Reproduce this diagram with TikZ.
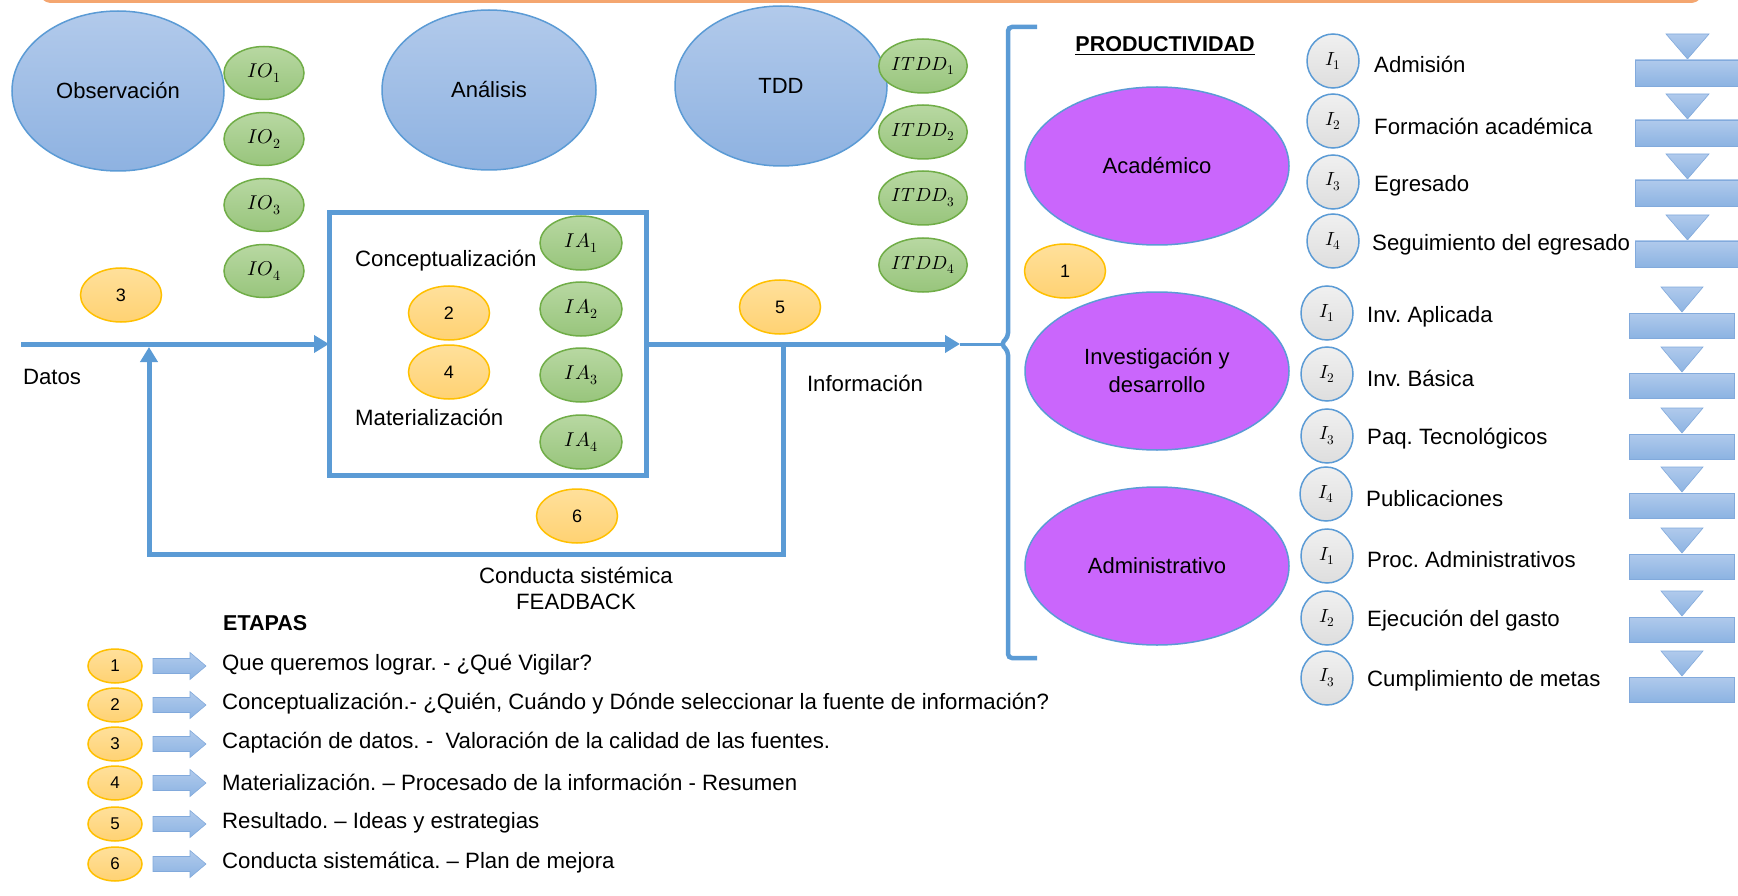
\documentclass[tikz,border=0pt]{standalone}
\usepackage{fontspec}
\usepackage{unicode-math}
\setmainfont{Liberation Sans}
\setmathfont{Latin Modern Math}
\usetikzlibrary{shapes.geometric,arrows.meta}
\frenchspacing

\definecolor{lblue}{RGB}{91,155,213}
\definecolor{bfillT}{RGB}{178,202,235}
\definecolor{bfillB}{RGB}{142,178,225}
\definecolor{gline}{RGB}{112,173,71}
\definecolor{gfillT}{RGB}{184,216,162}
\definecolor{gfillB}{RGB}{152,197,124}
\definecolor{yline}{RGB}{255,192,0}
\definecolor{yfillT}{RGB}{255,224,155}
\definecolor{yfillB}{RGB}{255,210,115}
\definecolor{purp}{RGB}{202,102,252}
\definecolor{greyT}{RGB}{240,240,240}
\definecolor{greyB}{RGB}{222,222,222}
\definecolor{orangeline}{RGB}{244,166,112}
\definecolor{mergeT}{RGB}{176,202,236}
\definecolor{mergeB}{RGB}{140,179,226}
\definecolor{mergeLine}{RGB}{130,170,220}

\tikzset{
  txt/.style={font=\fontsize{22.2}{26}\selectfont, inner sep=0pt},
  bigell/.style={ellipse, draw=lblue, line width=1.5pt, top color=bfillT, bottom color=bfillB,
    minimum width=212pt, minimum height=160pt, inner sep=0pt, font=\fontsize{22}{26}\selectfont},
  gell/.style={ellipse, draw=gline, line width=1.5pt, top color=gfillT, bottom color=gfillB,
    minimum width=80pt, minimum height=53pt, inner sep=0pt, font=\fontsize{20}{22}\selectfont},
  yell/.style={ellipse, draw=yline, line width=1.5pt, top color=yfillT, bottom color=yfillB,
    minimum width=81pt, minimum height=54pt, inner sep=0pt, font=\fontsize{18}{20}\selectfont},
  pell/.style={ellipse, draw=lblue, line width=1.5pt, fill=purp,
    minimum width=264pt, minimum height=158pt, inner sep=0pt, align=center,
    font=\fontsize{22}{28}\selectfont},
  icirc/.style={ellipse, draw=lblue, line width=1.5pt, top color=greyT, bottom color=greyB,
    minimum width=52pt, minimum height=54pt, inner sep=0pt, font=\fontsize{19}{20}\selectfont},
  lcirc/.style={ellipse, draw=yline, line width=1.5pt, top color=yfillT, bottom color=yfillB,
    minimum width=54pt, minimum height=34pt, inner sep=0pt, font=\fontsize{17}{18}\selectfont},
  flow/.style={draw=lblue, line width=5pt},
  arr/.style={-{Triangle[length=15pt,width=17pt]}},
  mergeshape/.style={top color=mergeT, bottom color=mergeB, draw=mergeLine, line width=0.6pt},
  legarrow/.style={top color=mergeT, bottom color=mergeB, draw=mergeLine, line width=0.6pt},
}

\begin{document}
\begin{tikzpicture}[x=1pt,y=-1pt]
\useasboundingbox (0,0) rectangle (1738,896);
\fill[white] (0,0) rectangle (1738,896);

% top orange bar (bottom edge of title box)
\draw[orangeline, line width=3pt, rounded corners=14pt] (38,-30) -- (38,1.5) -- (1704,1.5) -- (1704,-30);

% big blue ellipses
\node[bigell] (obs) at (118,91) {Observación};
\node[bigell, minimum width=214pt] (ana) at (489,90) {Análisis};
\node[bigell] (tdd) at (781,86) {TDD};

% IO
\node[gell] (io1) at (264,73) {$IO_1$};
\node[gell] (io2) at (264,139) {$IO_2$};
\node[gell] (io3) at (264,205) {$IO_3$};
\node[gell] (io4) at (264,271) {$IO_4$};

% ITDD
\node[gell, minimum width=82pt, minimum height=54pt, font=\fontsize{19}{20}\selectfont] (it1) at (923,66) {$ITDD_1$};
\node[gell, minimum width=82pt, minimum height=54pt, font=\fontsize{19}{20}\selectfont] (it2) at (923,132) {$ITDD_2$};
\node[gell, minimum width=82pt, minimum height=54pt, font=\fontsize{19}{20}\selectfont] (it3) at (923,198) {$ITDD_3$};
\node[gell, minimum width=82pt, minimum height=54pt, font=\fontsize{19}{20}\selectfont] (it4) at (923,265) {$ITDD_4$};

% central box
\node[draw=lblue, line width=5pt, minimum width=317pt, minimum height=262pt, outer sep=0pt, inner sep=0pt] (box) at (487.5,344) {};
\node[txt, anchor=west] (concept) at (355,261) {Conceptualización};
\node[txt, anchor=west] (mater) at (355,417) {Materialización};
\node[yell] (n2) at (449,313) {2};
\node[yell] (n4) at (449,372) {4};
\node[gell, minimum width=82pt, minimum height=54pt] (ia1) at (581,243) {$IA_1$};
\node[gell, minimum width=82pt, minimum height=54pt] (ia2) at (581,309) {$IA_2$};
\node[gell, minimum width=82pt, minimum height=54pt] (ia3) at (581,375) {$IA_3$};
\node[gell, minimum width=82pt, minimum height=54pt] (ia4) at (581,442) {$IA_4$};

% other step labels
\node[yell] (n3) at (121,295) {3};
\node[yell] (n5) at (780,307) {5};
\node[yell] (n6) at (577,516) {6};
\node[yell] (n1) at (1065,271) {1};

% flow lines
\coordinate (start) at (21,344);
\coordinate (infotip) at (960,344);
\coordinate (bracetip) at (1001,344);
\coordinate (fb) at (783,344);
\coordinate (fbr) at (783,554);
\coordinate (fbl) at (149,554);
\coordinate (fbt) at (149,347);
\draw[flow, arr] (start) -- (box.west);
\draw[flow, arr] (box.east) -- (infotip);
\draw[draw=lblue, line width=3pt] (infotip) -- (bracetip);
\draw[flow, arr] (fb) -- (fbr) -- (fbl) -- (fbt);

% brace
\draw[draw=lblue, line width=4.5pt, rounded corners=4pt]
  (1037,27) -- (1008,27) -- (1008,337) -- (bracetip) -- (1008,351) -- (1008,658) -- (1037,658);

\node[txt] (datos) at (52,377) {Datos};
\node[txt] (info) at (865,383) {Información};
\node[txt, align=center] (conducta) at (576,588) {Conducta sistémica\\FEADBACK};

% productividad
\node[txt, font=\fontsize{21.5}{26}\selectfont\bfseries] (prod) at (1165,46) {\underline{PRODUCTIVIDAD}};
\node[pell] (acad) at (1157,166) {Académico};
\node[pell] (inv) at (1157,371) {Investigación y\\desarrollo};
\node[pell] (adm) at (1157,566) {Administrativo};

% indicators group 1
\node[icirc] (a1) at (1333,61) {$I_1$};
\node[icirc] (a2) at (1333,121) {$I_2$};
\node[icirc] (a3) at (1333,182) {$I_3$};
\node[icirc] (a4) at (1333,241) {$I_4$};
\node[txt, anchor=west] (ta1) at (1374,64) {Admisión};
\node[txt, anchor=west] (ta2) at (1374,126) {Formación académica};
\node[txt, anchor=west] (ta3) at (1374,186) {Egresado};
\node[txt, anchor=west] (ta4) at (1372,245) {Seguimiento del egresado};

% indicators group 2
\node[icirc] (b1) at (1327,313) {$I_1$};
\node[icirc] (b2) at (1327,374) {$I_2$};
\node[icirc] (b3) at (1327,436) {$I_3$};
\node[icirc] (b4) at (1326,494) {$I_4$};
\node[icirc] (b5) at (1327,556) {$I_1$};
\node[icirc] (b6) at (1327,618) {$I_2$};
\node[icirc] (b7) at (1327,678) {$I_3$};
\node[txt, anchor=west] (tb1) at (1367,317) {Inv. Aplicada};
\node[txt, anchor=west] (tb2) at (1367,378) {Inv. Básica};
\node[txt, anchor=west] (tb3) at (1367,439) {Paq. Tecnológicos};
\node[txt, anchor=west] (tb4) at (1366,499) {Publicaciones};
\node[txt, anchor=west] (tb5) at (1367,560) {Proc. Administrativos};
\node[txt, anchor=west] (tb6) at (1367,621) {Ejecución del gasto};
\node[txt, anchor=west] (tb7) at (1367,681) {Cumplimiento de metas};

% merge shapes on the right
\foreach \t in {34,94,154,215} {
  \path[mergeshape] (1666,\t) -- (1709,\t) -- (1687.5,\t+25) -- cycle;
  \path[mergeshape] (1635,\t+26) rectangle (1740,\t+52);
}
\foreach \t in {287,347,408,467,528,591,651} {
  \path[mergeshape] (1661,\t) -- (1703,\t) -- (1682,\t+25) -- cycle;
  \path[mergeshape] (1629,\t+26) rectangle (1734,\t+51);
}

% legend
\node[txt, anchor=west, font=\fontsize{21.5}{26}\selectfont\bfseries] (etapas) at (223,623) {ETAPAS};
\foreach \y/\n/\s in {666/1/{Que queremos lograr. - ¿Qué Vigilar?},
                      705/2/{Conceptualización.- ¿Quién, Cuándo y Dónde seleccionar la fuente de información?},
                      744/3/{Captación de datos. -\ \ Valoración de la calidad de las fuentes.},
                      783/4/{Materialización. – Procesado de la información - Resumen},
                      824/5/{Resultado. – Ideas y estrategias},
                      864/6/{Conducta sistemática. – Plan de mejora}} {
  \node[lcirc] (leg\n) at (115,\y) {\n};
  \path[legarrow] (153,\y-7.5) -- (190,\y-7.5) -- (190,\y-13.5) -- (206,\y) -- (190,\y+13.5) -- (190,\y+7.5) -- (153,\y+7.5) -- cycle;
  \node[txt, anchor=west] (legt\n) at (222,\y-1) {\s};
}
\end{tikzpicture}
\end{document}
